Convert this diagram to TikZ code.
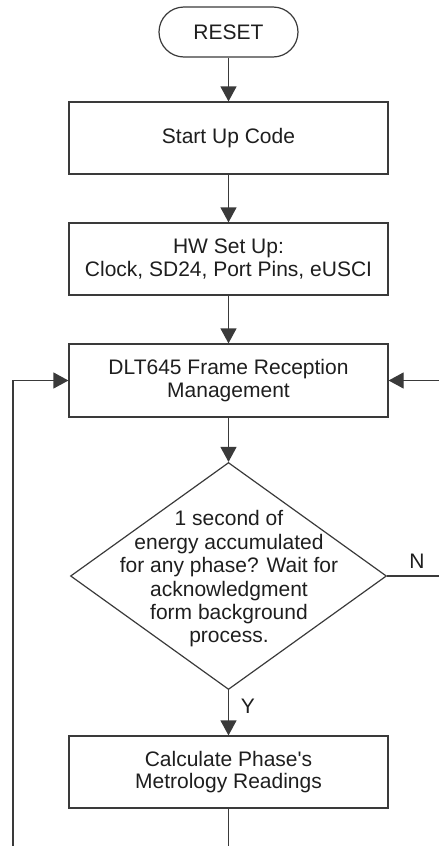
\documentclass[tikz,border=0pt]{standalone}
\usepackage{fontspec}
\setmainfont{Liberation Sans}
\usetikzlibrary{arrows.meta,shapes.geometric}
\definecolor{flowline}{HTML}{3A3A3A}
\definecolor{flowtext}{HTML}{1E1E1E}
\newcommand\flowfont{\fontsize{21}{23}\selectfont}
\begin{document}
\begin{tikzpicture}[x=1pt,y=-1pt,
  line/.style={draw=flowline, line width=1.2pt},
  arr/.style={line, -{Triangle[length=15pt,width=16pt]}},
  procbox/.style={draw=flowline, line width=1.2pt, minimum width=319pt,
    minimum height=72pt, align=center, font=\flowfont, text=flowtext, inner sep=0pt},
  termbox/.style={draw=flowline, line width=1.2pt, rounded corners=25pt,
    minimum width=139pt, minimum height=50pt, font=\flowfont, text=flowtext, inner sep=0pt},
  decbox/.style={draw=flowline, line width=1.2pt, diamond, minimum width=316pt,
    minimum height=227pt, inner sep=0pt},
  txt/.style={font=\flowfont, text=flowtext, align=center, inner sep=0pt}
]
\useasboundingbox (0,0) rectangle (439,846);
\clip (0,0) rectangle (439,846);

% process steps
\node[termbox] (reset) at (228.5,32) {RESET};
\node[procbox] (start) at (228.5,138) {Start Up Code};
\node[procbox, font=\fontsize{21}{22.3}\selectfont] (hw) at (228.5,259) {HW Set Up:\\Clock, SD24, Port Pins, eUSCI};
\node[procbox, minimum height=73pt] (dlt) at (228.5,380.5) {DLT645 Frame Reception\\Management};
\node[decbox] (dec) at (228.5,576) {};
\node[txt, font=\fontsize{21}{23.4}\selectfont] (dectext) at (229,579) {1 second of\\energy accumulated\\for any phase? Wait for\\acknowledgment\\form background\\process.};
\node[procbox, font=\fontsize{21}{22}\selectfont] (calc) at (228.5,772) {Calculate Phase\textquotesingle s\\Metrology Readings};

% loose ends and loop corners (the right-hand riser lies just past the edge)
\coordinate (calcout) at (228.5,846);
\coordinate (loopin) at (13,846);
\coordinate (ncorner) at (442,576);

% main flow
\draw[arr] (reset) -- (start);
\draw[arr] (start) -- (hw);
\draw[arr] (hw) -- (dlt);
\draw[arr] (dlt) -- (dec.north);
\draw[arr] (dec.south) -- (calc);
\draw[line] (calc) -- (calcout);

% loops back to frame reception
\draw[arr] (loopin) |- (dlt.west);
\draw[arr] (dec.east) -- (ncorner) |- (dlt.east);

% branch labels
\node[txt] (nlab) at (417,561) {N};
\node[txt] (ylab) at (248,706) {Y};
\end{tikzpicture}
\end{document}
